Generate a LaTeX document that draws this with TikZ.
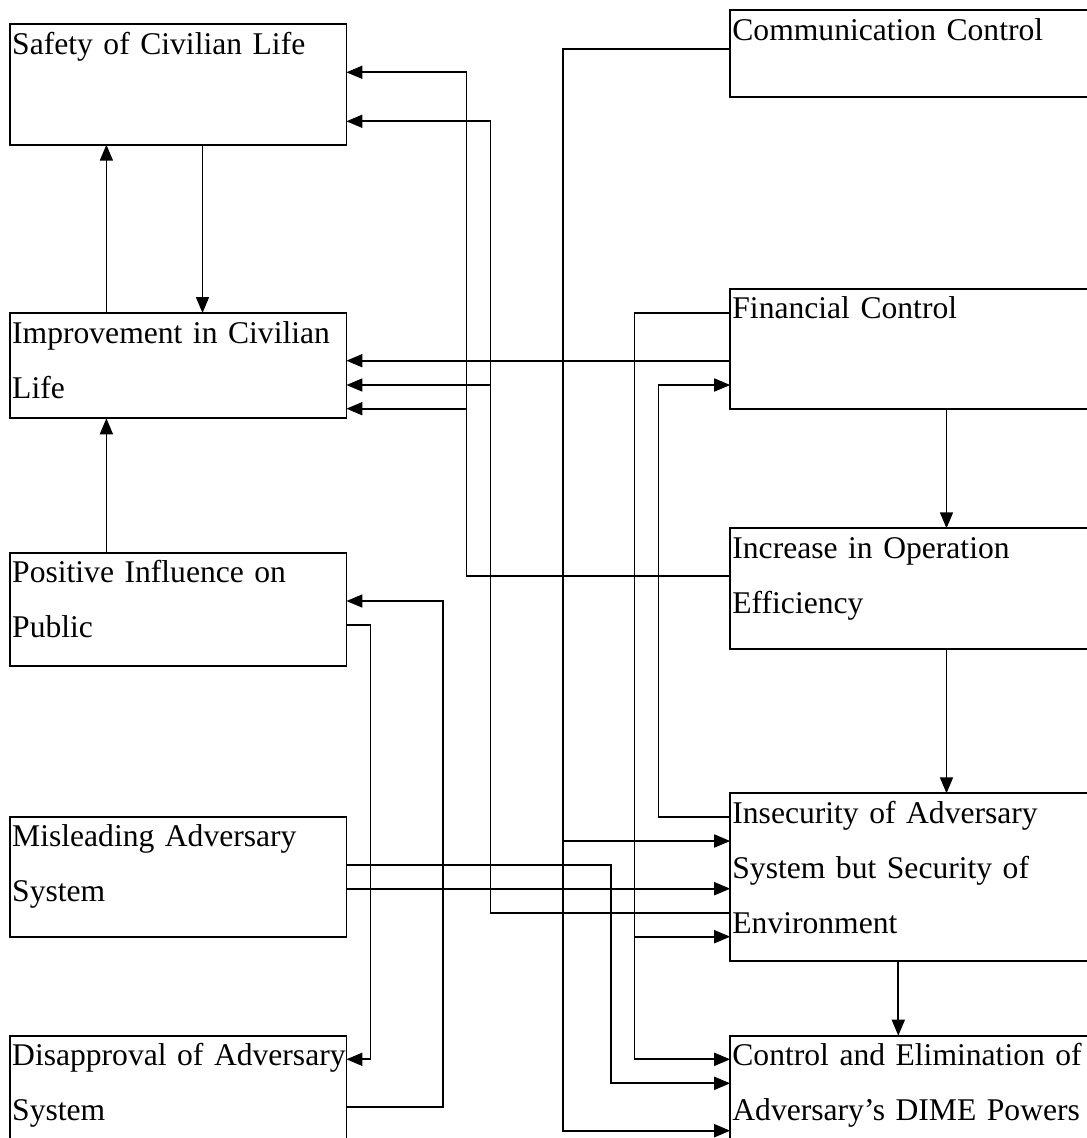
\documentclass[tikz,border=0pt]{standalone}
\usepackage{fontspec}
\setmainfont{Liberation Serif}
\usetikzlibrary{arrows.meta}
\begin{document}
\begin{tikzpicture}[x=1pt,y=-1pt,
  box/.style={draw, line width=1.7pt, outer sep=0pt, inner sep=0pt, anchor=north west},
  lbox/.style={box, minimum width=336.4pt},
  rbox/.style={box, minimum width=370pt},
  txt/.style={anchor=base west, xshift=2pt, yshift=-30pt, inner sep=0pt,
    align=left, text width=360pt, font=\fontsize{31.6}{55}\selectfont},
  arr/.style={line width=1.7pt, -{Triangle[length=16pt,width=13pt]}}]

\useasboundingbox (0,0) rectangle (1087,1138);
\fill[white] (0,0) rectangle (1087,1138);
\clip (0,0) rectangle (1087,1138);

% left column
\node[lbox, minimum height=120.4pt, label={[txt]north west:Safety of Civilian Life}] (safety) at (10,24.3) {};
\node[lbox, minimum height=105.3pt, label={[txt]north west:{Improvement in Civilian\\Life}}] (impr) at (10,313) {};
\node[lbox, minimum height=113pt, label={[txt]north west:{Positive Influence on\\Public}}] (pos) at (10,552.7) {};
\node[lbox, minimum height=120pt, label={[txt]north west:{Misleading Adversary\\System}}] (mis) at (10,816.7) {};
\node[lbox, minimum height=130pt, label={[txt]north west:{Disapproval of Adversary\\System}}] (dis) at (10,1035.7) {};

% right column
\node[rbox, minimum height=86.7pt, label={[txt]north west:Communication Control}] (comm) at (730.2,10.3) {};
\node[rbox, minimum height=120pt, label={[txt]north west:Financial Control}] (fin) at (730.2,288.7) {};
\node[rbox, minimum height=120.7pt, label={[txt]north west:{Increase in Operation\\Efficiency}}] (incr) at (730.2,528.3) {};
\node[rbox, minimum height=167.7pt, label={[txt]north west:{Insecurity of Adversary\\System but Security of\\Environment}}] (insec) at (730.2,793.3) {};
\node[rbox, minimum height=130pt, label={[txt]north west:{Control and Elimination of\\Adversary’s DIME Powers}}] (ctrl) at (730.2,1035.7) {};

% vertical links in the left column
\draw[arr] (safety.south -| 202.5,0) -- (impr.north -| 202.5,0);
\draw[arr] (impr.north -| 106.4,0) -- (safety.south -| 106.4,0);
\draw[arr] (pos.north -| 106.4,0) -- (impr.south -| 106.4,0);

% vertical links in the right column
\draw[arr] (fin.south -| 946.5,0) -- (incr.north -| 946.5,0);
\draw[arr] (incr.south -| 946.5,0) -- (insec.north -| 946.5,0);
\draw[arr] (insec.south -| 898.3,0) -- (ctrl.north -| 898.3,0);

% links from right to left
\draw[arr] (fin.west |- 0,360.7) -- (impr.east |- 0,360.7);
\draw[arr] (incr.west |- 0,576.3) -| (466.4,72.3) -- (safety.east |- 0,72.3);
\draw[arr] (incr.west |- 0,576.3) -| (466.4,408.7) -- (impr.east |- 0,408.7);
\draw[arr] (insec.west |- 0,912.7) -| (490.4,121.3) -- (safety.east |- 0,121.3);
\draw[arr] (insec.west |- 0,912.7) -| (490.4,385) -- (impr.east |- 0,385);
\draw[arr] (insec.west |- 0,816.7) -| (658.6,385) -- (fin.west |- 0,385);

% feeders on the right
\draw[arr] (comm.west |- 0,49) -| (562.7,841) -- (insec.west |- 0,841);
\draw[arr] (comm.west |- 0,49) -| (562.7,1130.7) -- (ctrl.west |- 0,1130.7);
\draw[arr] (fin.west |- 0,313) -| (634.6,936.7) -- (insec.west |- 0,936.7);
\draw[arr] (fin.west |- 0,313) -| (634.6,1059.3) -- (ctrl.west |- 0,1059.3);

% links from the left column to the right
\draw[arr] (mis.east |- 0,888.7) -- (insec.west |- 0,888.7);
\draw[arr] (mis.east |- 0,865) -| (610.8,1083.3) -- (ctrl.west |- 0,1083.3);

% public opinion loop
\draw[arr] (pos.east |- 0,625) -| (370.4,1059.3) -- (dis.east |- 0,1059.3);
\draw[arr] (dis.east |- 0,1107) -| (442.9,601) -- (pos.east |- 0,601);
\end{tikzpicture}
\end{document}
